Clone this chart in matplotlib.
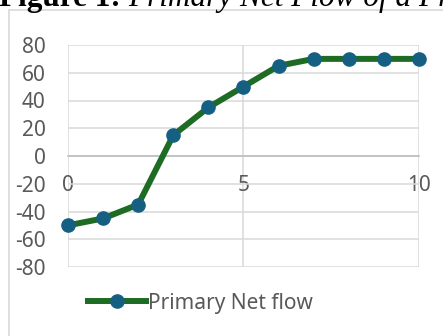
import numpy as np
import matplotlib
matplotlib.use('Agg')
import matplotlib.pyplot as plt
from matplotlib.patches import Rectangle

# primary net flow per step
steps = [0, 1, 2, 3, 4, 5, 6, 7, 8, 9, 10]
net_flow = [-50, -45, -35, 15, 35, 50, 65, 70, 70, 70, 70]
yticks = [-80, -60, -40, -20, 0, 20, 40, 60, 80]
xticks = [0, 5, 10]

plt.rcParams['font.family'] = ['Noto Sans', 'DejaVu Sans']
plt.rcParams['axes.unicode_minus'] = False

W, H = 443, 336
fig = plt.figure(figsize=(W/100, H/100), dpi=100)

# chart frame (runs off the right and bottom edge)
fig.patches.append(Rectangle((8.5/W, -0.1), 1.2, 1 - 10/H + 0.1, transform=fig.transFigure,
                             fill=False, edgecolor='#d9d9d9', linewidth=1.2))

ax = fig.add_axes([68/W, 69/H, (419-68)/W, (267-45)/H])
ax.set_xlim(0, 10)
ax.set_ylim(-80, 80)
ax.set_yticks(yticks)
ax.set_xticks(xticks)
ax.grid(True, color='#d9d9d9', linewidth=1.1)
ax.set_axisbelow(True)
for s in ['top', 'right', 'left']:
    ax.spines[s].set_visible(False)
ax.spines['bottom'].set_position(('data', 0))
ax.spines['bottom'].set_color('#bfbfbf')
ax.spines['bottom'].set_linewidth(1.2)
ax.tick_params(axis='y', length=0, pad=16, labelsize=15, labelcolor='#595959')
ax.tick_params(axis='x', length=0, pad=14, labelsize=15, labelcolor='#595959')

ax.plot(steps, net_flow, color='#1e6b24', linewidth=4.3, marker='o',
        markersize=9.5, markerfacecolor='#156082', markeredgecolor='#156082',
        label='Primary Net flow', clip_on=False, zorder=3)

leg = fig.legend(loc='center left', bbox_to_anchor=(88/W, 1 - 303/H), frameon=False,
                 borderpad=0, borderaxespad=0, handlelength=2.8, handletextpad=0.1,
                 fontsize=15)
for t in leg.get_texts():
    t.set_color('#595959')

# caption cut off at the top
fig.text(-1/W, 1 - 6/H, 'Figure 1:', fontfamily='Liberation Serif', fontweight='bold',
         fontsize=22.5, va='baseline', ha='left')
fig.text(128/W, 1 - 6/H, 'Primary Net Flow of a Primary', fontfamily='Liberation Serif',
         fontstyle='italic', fontsize=22.5, va='baseline', ha='left')

fig.savefig('out.png', dpi=100)
